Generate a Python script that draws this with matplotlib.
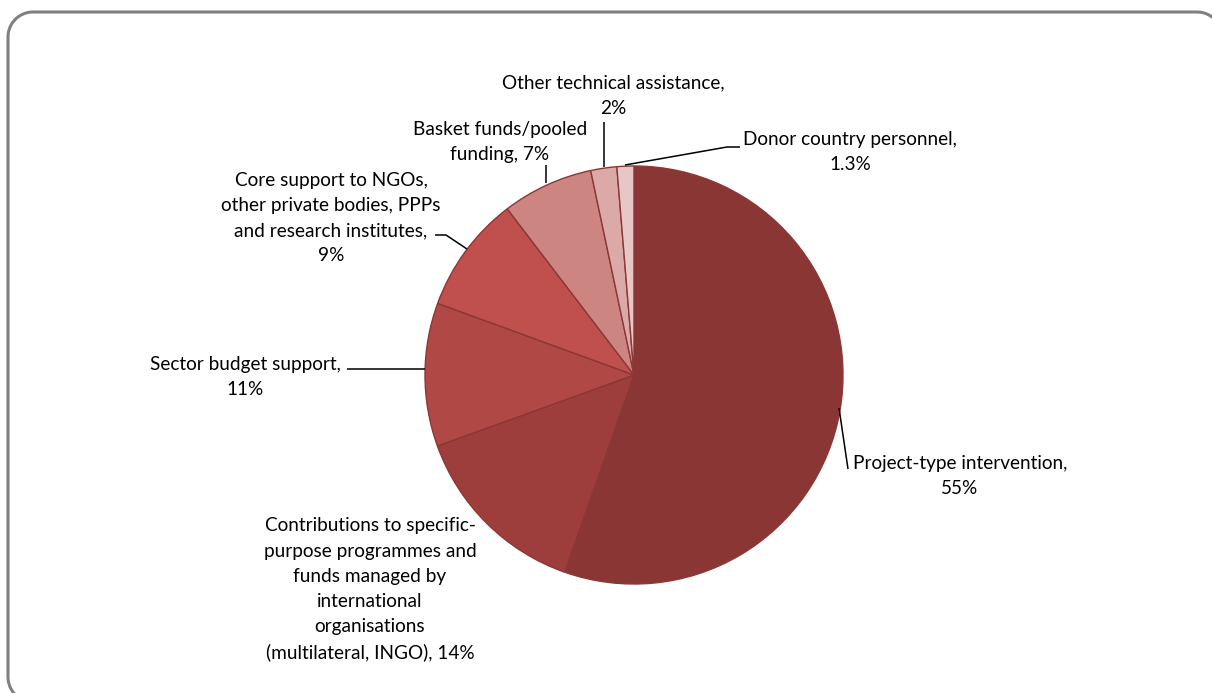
import numpy as np
import matplotlib
matplotlib.use("Agg")
import matplotlib.pyplot as plt

plt.rcParams['font.family'] = ['Lato', 'DejaVu Sans']

# shares of aid by modality (%)
categories = [
    "Project-type intervention,",
    "Contributions to specific-\npurpose programmes and\nfunds managed by\ninternational\norganisations\n(multilateral, INGO),",
    "Sector budget support,",
    "Core support to NGOs,\nother private bodies, PPPs\nand research institutes,",
    "Basket funds/pooled\nfunding,",
    "Other technical assistance,",
    "Donor country personnel,",
]
shares = [55, 14, 11, 9, 7, 2, 1.3]
colors = ["#8A3634", "#9E3E3C", "#B04946", "#C0504D", "#CD8582", "#DAA9A8", "#E7C7C6"]

W, H = 1212, 693
fig = plt.figure(figsize=(W / 100, H / 100), dpi=100)
ax = fig.add_axes([0, 0, 1, 1])

cx, cy, R = 634, 375, 209
ax.pie(shares, colors=colors, startangle=90, counterclock=False,
       center=(cx, H - cy), radius=R,
       wedgeprops=dict(edgecolor="#8C3735", linewidth=1.0))

ax.set_xlim(0, W)
ax.set_ylim(0, H)
ax.set_aspect("equal")
ax.axis("off")

# label blocks: (center x, center y, break the value onto its own line?)
label_pos = [
    (960, 476, True),
    (370, 589, False),
    (245, 377, True),
    (331, 218, True),
    (500, 142, False),
    (613, 96, True),
    (850, 152, True),
]
line_h = 25.3

for name, val, (lx, ly, own_line) in zip(categories, shares, label_pos):
    pct = f"{val:g}%"
    if own_line:
        text = name + "\n" + pct
    else:
        text = name + " " + pct
    lines = text.split("\n")
    n = len(lines)
    for i, line in enumerate(lines):
        yy = ly + (i - (n - 1) / 2) * line_h
        ax.text(lx, H - yy, line, ha="center", va="center",
                fontsize=13.7, color="black")

# leader lines
leaders = [
    [(839, 408), (848, 469)],
    [(347, 369), (425, 369)],
    [(435, 235), (446, 235), (467, 249)],
    [(546, 165), (546, 183)],
    [(604, 122), (604, 167)],
    [(625, 165), (727, 147), (740, 147)],
]
for pts in leaders:
    xs = [p[0] for p in pts]
    ys = [H - p[1] for p in pts]
    ax.plot(xs, ys, color="black", lw=1.1, solid_capstyle="butt")

# rounded frame, running off the right and bottom edges
def corner(xc, yc, a0, a1, r=25):
    t = np.radians(np.linspace(a0, a1, 20))
    return list(xc + r * np.cos(t)), list(yc + r * np.sin(t))

x0, y0, x1, y1 = 8, 12, 1222, 702
bx, by = [], []
for xs_, ys_ in [corner(x0 + 25, y1 - 25, 90, 180),
                 corner(x0 + 25, y0 + 25, 180, 270),
                 corner(x1 - 25, y0 + 25, 270, 360),
                 corner(x1 - 25, y1 - 25, 0, 90)]:
    bx += xs_
    by += ys_
bx.append(bx[0])
by.append(by[0])
ax.plot(bx, [H - v for v in by], color="#808080", lw=2.2, clip_on=False)

fig.savefig("out.png", dpi=100)
